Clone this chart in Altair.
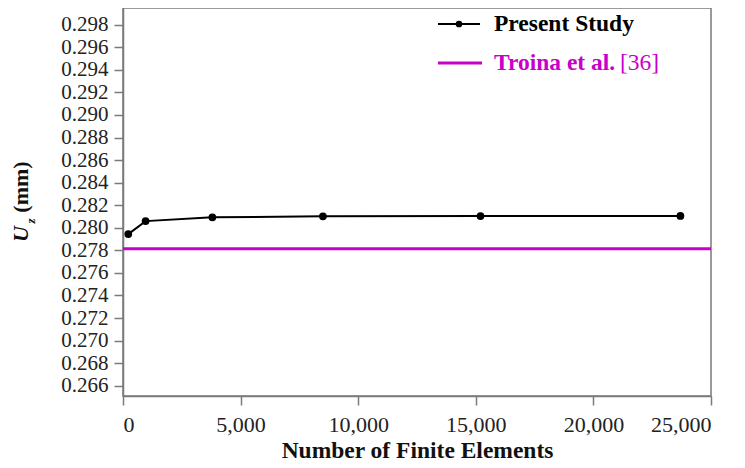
import altair as alt
import pandas as pd

# ---- data ----
elements = [225, 960, 3800, 8500, 15200, 23700]
uz_present = [0.27944, 0.28059, 0.28093, 0.28102, 0.28104, 0.28105]
uz_troina = [0.27815]
x_ticks = [0, 5000, 10000, 15000, 20000, 25000]
y_ticks = [0.266, 0.268, 0.270, 0.272, 0.274, 0.276, 0.278, 0.280, 0.282,
           0.284, 0.286, 0.288, 0.290, 0.292, 0.294, 0.296, 0.298]
legend_labels = ["Present Study", "Troina et al.", "[36]"]
y_title_parts = ["U", "z", "(mm)"]

FONT = "Liberation Serif"
MAGENTA = "#C800C8"
FRAME = "#7a7a7a"

df = pd.DataFrame({"n": elements, "uz": uz_present})
ref = pd.DataFrame({"uz": uz_troina})
one = pd.DataFrame({"k": [0]})

y_scale = alt.Scale(domain=[0.26509, 0.29948], nice=False, zero=False)
y_axis = alt.Axis(values=y_ticks, format=".3f", title=None,
                  labelFont=FONT, labelFontSize=21, labelOverlap=False,
                  labelPadding=6)

x_enc = alt.X("n:Q",
              scale=alt.Scale(domain=[0, 25000], nice=False, zero=False),
              axis=alt.Axis(values=x_ticks, format=",d",
                            title="Number of Finite Elements",
                            labelFont=FONT, labelFontSize=22, labelOverlap=False,
                            labelPadding=9, titlePadding=3,
                            titleFontSize=23.5))
y_enc = alt.Y("uz:Q", scale=y_scale, axis=y_axis)

rule = alt.Chart(ref).mark_rule(color=MAGENTA, strokeWidth=3).encode(
    y=alt.Y("uz:Q", scale=y_scale, axis=y_axis)
)

line = alt.Chart(df).mark_line(
    color="black", strokeWidth=2,
    point=alt.OverlayMarkDef(filled=True, size=60, color="black", opacity=1),
).encode(x=x_enc, y=y_enc)

# ---- custom legend ----
leg_line1 = alt.Chart(one).mark_rule(color="black", strokeWidth=2).encode(
    x=alt.value(315), x2=alt.value(357), y=alt.value(16))
leg_pt = alt.Chart(one).mark_point(filled=True, size=45, color="black", opacity=1).encode(
    x=alt.value(336), y=alt.value(16))
leg_txt1 = alt.Chart(one).mark_text(
    text=legend_labels[0], align="left", baseline="middle", font=FONT,
    fontSize=23.5, fontWeight="bold", color="black").encode(
    x=alt.value(371), y=alt.value(16))
leg_line2 = alt.Chart(one).mark_rule(color=MAGENTA, strokeWidth=3).encode(
    x=alt.value(315), x2=alt.value(359), y=alt.value(55))
leg_txt2 = alt.Chart(one).mark_text(
    text=legend_labels[1], align="left", baseline="middle", font=FONT,
    fontSize=23.5, fontWeight="bold", color=MAGENTA).encode(
    x=alt.value(371), y=alt.value(55))
leg_txt3 = alt.Chart(one).mark_text(
    text=legend_labels[2], align="left", baseline="middle", font=FONT,
    fontSize=23.5, fontWeight="normal", color=MAGENTA).encode(
    x=alt.value(497), y=alt.value(55))

# ---- y-axis title U_z (mm) ----
yt_u = alt.Chart(one).mark_text(
    text=y_title_parts[0], angle=270, align="center", baseline="middle",
    font=FONT, fontSize=22, fontWeight="bold", fontStyle="italic", color="#111").encode(
    x=alt.value(-102), y=alt.value(226))
yt_z = alt.Chart(one).mark_text(
    text=y_title_parts[1], angle=270, align="center", baseline="middle",
    font=FONT, fontSize=13, fontWeight="bold", fontStyle="italic", color="#111").encode(
    x=alt.value(-92), y=alt.value(213))
yt_mm = alt.Chart(one).mark_text(
    text=y_title_parts[2], angle=270, align="center", baseline="middle",
    font=FONT, fontSize=22, fontWeight="bold", color="#111").encode(
    x=alt.value(-102), y=alt.value(179))

chart = alt.layer(
    rule, line, leg_line1, leg_pt, leg_txt1, leg_line2, leg_txt2, leg_txt3,
    yt_u, yt_z, yt_mm,
).properties(
    width=588, height=388,
    autosize=alt.AutoSizeParams(type="none"),
    padding={"left": 115, "top": 0, "right": 20, "bottom": 71},
).configure(
    font=FONT,
).configure_view(
    stroke=FRAME, strokeWidth=1.5,
).configure_axis(
    grid=False,
    domainColor=FRAME, domainWidth=1.5,
    tickColor=FRAME, tickWidth=1.5, tickSize=9,
    labelFont=FONT, labelColor="#222",
    titleFont=FONT, titleFontWeight="bold", titleColor="#111",
)

chart.save("out.html", embed_options={"renderer": "svg", "actions": False})
